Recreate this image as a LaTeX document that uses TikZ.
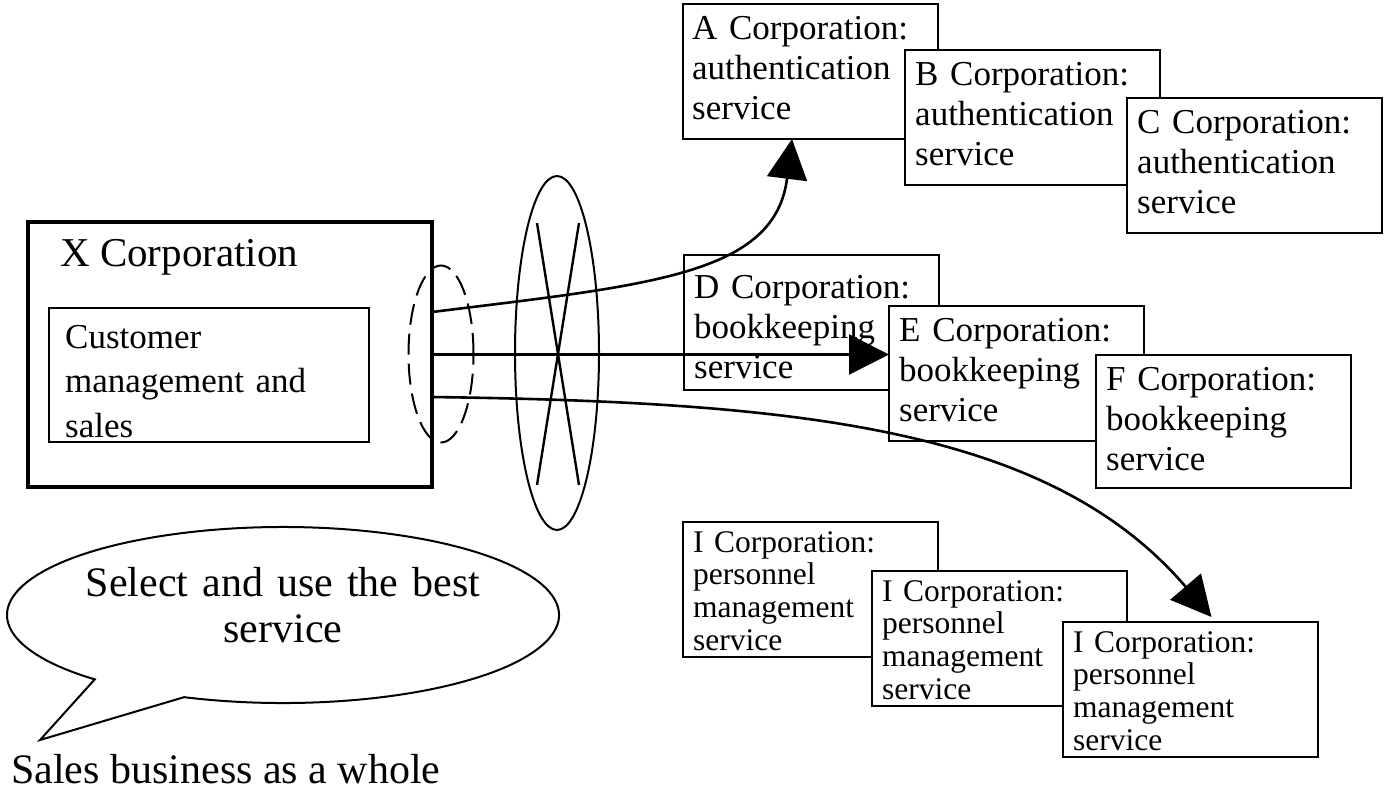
\documentclass[tikz,border=0pt]{standalone}
\usepackage{fontspec}
\setmainfont{Liberation Serif}
\usetikzlibrary{arrows.meta,calc,shapes.geometric}
\begin{document}
\begin{tikzpicture}[x=1pt, y=-1pt,
  svcbox/.style={draw, line width=1.3pt, fill=white, anchor=north west, inner sep=0pt, outer sep=0pt,
                 minimum width=255pt, minimum height=135pt},
  hrbox/.style={svcbox, minimum height=135pt},
  svclbl/.style={anchor=base west, inner sep=0pt, align=left, text width=245pt,
                 font=\fontsize{35pt}{40pt}\selectfont},
  hrlbl/.style={svclbl, font=\fontsize{31.5pt}{32.7pt}\selectfont},
  link/.style={line width=2.6pt, -{Triangle[length=40pt, width=40pt]}},
]
\useasboundingbox (0,0) rectangle (1387,796);

% the customer company and its own function
\node[draw, line width=4.5pt, anchor=north west, inner sep=0pt, outer sep=0pt,
      minimum width=404pt, minimum height=265pt] (X) at (28,222) {};
\node[anchor=base west, inner sep=0pt, font=\fontsize{41pt}{46pt}\selectfont] (Xt) at (60,266) {X Corporation};
\node[draw, line width=1.2pt, anchor=north west, inner sep=0pt, outer sep=0pt,
      minimum width=320pt, minimum height=134pt] (cms) at (49,308) {};
\node[svclbl, text width=300pt, font=\fontsize{35pt}{44.5pt}\selectfont] (cmst) at (65,348)
      {Customer\\management and\\sales};

% interface and network
\node[draw, ellipse, line width=2pt, dash pattern=on 21pt off 9pt, inner sep=0pt,
      minimum width=65pt, minimum height=177pt] (iface) at (441,354) {};
\node[draw, ellipse, line width=2pt, inner sep=0pt,
      minimum width=84pt, minimum height=354pt] (net) at (557,353) {};
\draw[line width=2.4pt] ($(net.center)+(-20,-130)$) -- ($(net.center)+(22,132)$)
                        ($(net.center)+(22,-130)$) -- ($(net.center)+(-20,132)$);

% authentication services
\node[svcbox] (A) at (683,4) {};
\node[svclbl] (At) at ([xshift=9pt,yshift=-35pt]A.north west) {A Corporation:\\authentication\\service};
\node[svcbox] (B) at (905,50) {};
\node[svclbl] (Bt) at ([xshift=10pt,yshift=-35pt]B.north west) {B Corporation:\\authentication\\service};
\node[svcbox] (C) at (1127,98) {};
\node[svclbl] (Ct) at ([xshift=10pt,yshift=-35pt]C.north west) {C Corporation:\\authentication\\service};

% bookkeeping services
\node[svcbox] (D) at (684,255) {};
\node[svclbl] (Dt) at ([xshift=10pt,yshift=-43pt]D.north west) {D Corporation:\\bookkeeping\\service};
\node[svcbox] (E) at (889,306) {};
\node[svclbl] (Et) at ([xshift=10pt,yshift=-35pt]E.north west) {E Corporation:\\bookkeeping\\service};
\node[svcbox, minimum height=133pt] (F) at (1096,355) {};
\node[svclbl] (Ft) at ([xshift=10pt,yshift=-35pt]F.north west) {F Corporation:\\bookkeeping\\service};

% personnel management services
\node[hrbox] (I1) at (683,522) {};
\node[hrlbl] (I1t) at ([xshift=10pt,yshift=-30pt]I1.north west) {I Corporation:\\personnel\\management\\service};
\node[hrbox] (I2) at (872,571) {};
\node[hrlbl] (I2t) at ([xshift=10pt,yshift=-30pt]I2.north west) {I Corporation:\\personnel\\management\\service};
\node[hrbox] (I3) at (1063,622) {};
\node[hrlbl] (I3t) at ([xshift=10pt,yshift=-30pt]I3.north west) {I Corporation:\\personnel\\management\\service};

% service calls from the customer company
\coordinate (xtop) at ([yshift=42.5pt]X.east);
\coordinate (xbot) at ([yshift=-42.5pt]X.east);
\draw[link] (xtop) .. controls (650,285) and (775,275) .. ([xshift=-18.5pt]A.south);
\draw[link] (X.east) -- (X.east -| E.west);
\draw[link] (xbot) .. controls (800,402) and (1050,428) .. ([xshift=21pt,yshift=5pt]I3.north);

% speech bubble
\coordinate (bc) at (283,615);
\draw[line width=2pt, fill=white] ($(bc)+(249:276pt and 88pt)$)
     arc[start angle=249, end angle=587, x radius=276pt, y radius=88pt] -- (40,740) -- cycle;
\node[anchor=base, inner sep=0pt, align=center, text width=440pt,
      font=\fontsize{42pt}{46pt}\selectfont] (bubt) at (283,596) {Select and use the best\\service};
\node[anchor=base west, inner sep=0pt, font=\fontsize{42pt}{46pt}\selectfont] (whole) at (11,783)
      {Sales business as a whole};
\end{tikzpicture}
\end{document}
